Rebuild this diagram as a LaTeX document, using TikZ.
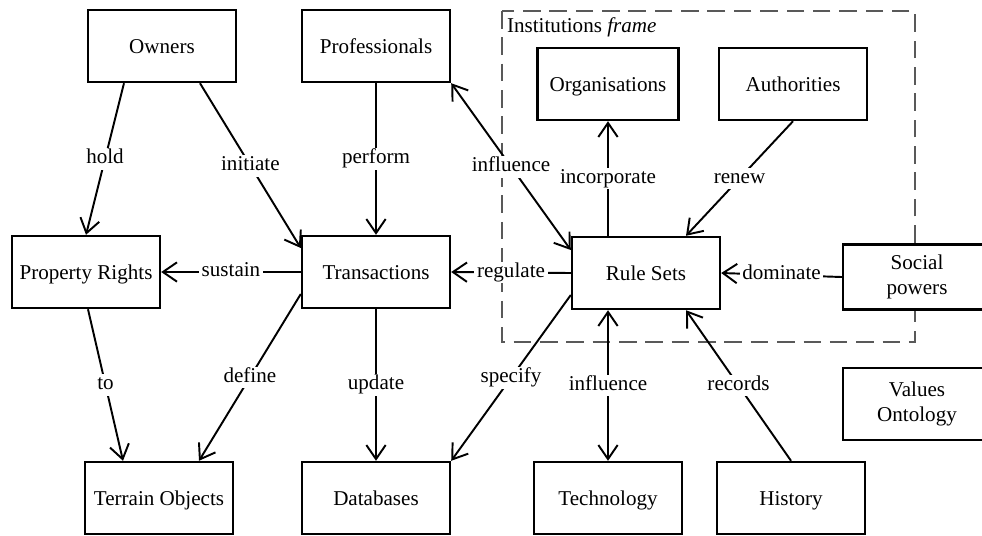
\documentclass[tikz,border=0pt]{standalone}
\usepackage{fontspec}
\setmainfont{Liberation Serif}
\usetikzlibrary{positioning,calc,arrows.meta}

\tikzset{
  barb/.tip={Straight Barb[length=8pt,width=11pt]},
  concept/.style={draw,
                  line width=1.4pt,
                  fill=white,
                  align=center,
                  minimum width=2.96cm,
                  minimum height=1.44cm,
                  inner sep=2pt,
                  text height=2.2ex,
                  text depth=0.45ex,
                  font=\fontsize{12}{14}\selectfont},
  twoline/.style={text height=, text depth=},
  link/.style={line width=1.1pt, -barb},
  lbl/.style={fill=white, inner sep=1.5pt, text height=1.6ex, text depth=0.45ex,
              font=\fontsize{12}{14}\selectfont}
}

\begin{document}
\begin{tikzpicture}[x=0.02cm, y=-0.02cm]
%    \draw[help lines] (0,0) grid[step=50] (982,535);
    \useasboundingbox (0,0) rectangle (982,535);
      % institutions frame
      \draw[draw=black!65,
            line width=0.7pt,
            dash pattern=on 10pt off 5pt] (502,11) rectangle (915,342);
      \node[anchor=west, inner sep=1pt,
            font=\fontsize{12}{14}\selectfont] (framelabel) at (505,27) {Institutions \textit{frame}};

      % concepts
      \node[concept] (owners) at (162,46) {Owners};
      \node[concept] (professionals) at (376,46) {Professionals};
      \node[concept, minimum width=2.82cm] (organisations) at (608,84) {Organisations};
      \node[concept] (authorities) at (793,84) {Authorities};
      \node[concept] (propertyrights) at (86,272) {Property Rights};
      \node[concept] (transactions) at (376,272) {Transactions};
      \node[concept] (rulesets) at (646,273) {Rule Sets};
      \node[concept, twoline, minimum height=1.3cm] (socialpowers) at (917,277) {Social\\powers};
      \node[concept, twoline] (valuesontology) at (917,404) {Values\\Ontology};
      \node[concept] (terrainobjects) at (159,498) {Terrain Objects};
      \node[concept] (databases) at (376,498) {Databases};
      \node[concept] (technology) at (608,498) {Technology};
      \node[concept] (history) at (791,498) {History};

      % relations
      \draw[link] ($(owners.south)+(-38,0)$) -- node[lbl] {hold} (propertyrights.north);
      \draw[link] ($(owners.south)+(38,0)$) -- node[lbl] {initiate} ($(transactions.west)+(0,-24)$);
      \draw[link] (professionals.south) -- node[lbl] {perform} (transactions.north);
      \draw[line width=1.1pt, barb-barb] (professionals.south east) -- node[lbl] {influence} ($(rulesets.west)+(0,-23)$);
      \draw[link] ($(rulesets.north)+(-38,0)$) -- node[lbl] {incorporate} (organisations.south);
      \draw[link] (authorities.south) -- node[lbl] {renew} ($(rulesets.north)+(40,0)$);
      \draw[link] (rulesets.west) -- node[lbl] {regulate} (transactions.east);
      \draw[link] (transactions.west) -- node[lbl] {sustain} (propertyrights.east);
      \draw[link] (socialpowers.west) -- node[lbl] {dominate} (rulesets.east);
      \draw[link] ($(transactions.west)+(0,22)$) -- node[lbl] {define} ($(terrainobjects.north)+(40,0)$);
      \draw[link] ($(propertyrights.south)+(2,0)$) -- node[lbl] {to} ($(terrainobjects.north)+(-36,0)$);
      \draw[link] (transactions.south) -- node[lbl] {update} (databases.north);
      \draw[link] ($(rulesets.west)+(0,22)$) -- node[lbl] {specify} (databases.north east);
      \draw[line width=1.1pt, barb-barb] ($(rulesets.south)+(-38,0)$) -- node[lbl] {influence} (technology.north);
      \draw[link] (history.north) -- node[lbl] {records} ($(rulesets.south)+(40,0)$);
\end{tikzpicture}
\end{document}
